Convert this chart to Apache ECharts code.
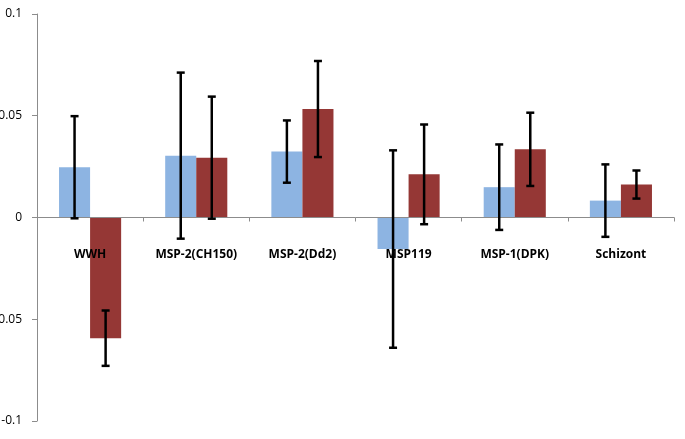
<!DOCTYPE html>
<html><head><meta charset="utf-8">
<script src="https://cdn.jsdelivr.net/npm/echarts@6/dist/echarts.min.js"></script>
<style>html,body{margin:0;padding:0;background:#fff}#c{width:685px;height:439px}</style>
</head><body><div id="c"></div>
<script>
var categories = ['WWH', 'MSP-2(CH150)', 'MSP-2(Dd2)', 'MSP119', 'MSP-1(DPK)', 'Schizont'];
var blueValues = [0.0247, 0.0304, 0.0324, -0.0155, 0.0149, 0.0083];
var blueErr = [0.0251, 0.0408, 0.0153, 0.0485, 0.0210, 0.0178];
var redValues = [-0.0593, 0.0294, 0.0533, 0.0212, 0.0335, 0.0162];
var redErr = [0.0136, 0.0300, 0.0236, 0.0245, 0.0180, 0.0069];
var yTicks = [-0.1, -0.05, 0, 0.05, 0.1];

function errData(vals, errs) {
  return vals.map(function (v, i) { return [i, v - errs[i], v + errs[i]]; });
}
function errRender(seriesIdx) {
  return function (params, api) {
    var i = api.value(0);
    var lo = api.coord([i, api.value(1)]);
    var hi = api.coord([i, api.value(2)]);
    var bw = api.size([1, 0])[0];
    var barW = bw * 0.2925;
    var x = lo[0] + (seriesIdx === 0 ? -barW / 2 : barW / 2);
    var cap = 4;
    var st = { stroke: '#000', lineWidth: 2.5 };
    return {
      type: 'group',
      children: [
        { type: 'line', shape: { x1: x, y1: lo[1], x2: x, y2: hi[1] }, style: st },
        { type: 'line', shape: { x1: x - cap, y1: lo[1], x2: x + cap, y2: lo[1] }, style: st },
        { type: 'line', shape: { x1: x - cap, y1: hi[1], x2: x + cap, y2: hi[1] }, style: st }
      ]
    };
  };
}

var gridTop = 14, gridBottom = 18, H = 439;
var zeroOffset = (H - gridTop - gridBottom) / 2;

var chart = echarts.init(document.getElementById('c'), null, { renderer: 'canvas' });
chart.setOption({
  animation: false,
  grid: { left: 37, right: 11, top: gridTop, bottom: gridBottom, containLabel: false, outerBoundsMode: 'none' },
  xAxis: {
    type: 'category',
    data: categories,
    position: 'bottom',
    offset: -zeroOffset,
    axisLine: { onZero: false, lineStyle: { color: '#8c8c8c', width: 1 } },
    axisTick: { show: true, length: 4, lineStyle: { color: '#8c8c8c' }, alignWithLabel: false },
    axisLabel: { interval: 0, margin: 31, fontFamily: 'Open Sans', fontWeight: 'bold', fontSize: 12, color: '#000', hideOverlap: false },
    z: 10
  },
  yAxis: {
    type: 'value',
    min: -0.1, max: 0.1, interval: 0.05,
    axisLine: { show: true, lineStyle: { color: '#8c8c8c', width: 1 } },
    axisTick: { show: true, length: 5, lineStyle: { color: '#8c8c8c' } },
    splitLine: { show: false },
    axisLabel: {
      margin: 15, fontFamily: 'Open Sans', fontSize: 12, color: '#000',
      formatter: function (v) { var r = Math.round(v * 100) / 100; return r === 0 ? '0' : String(r); }
    }
  },
  series: [
    { type: 'bar', data: blueValues, itemStyle: { color: '#8db4e2' }, barGap: '0%', barCategoryGap: '41.5%' },
    { type: 'bar', data: redValues, itemStyle: { color: '#953735' }, barGap: '0%', barCategoryGap: '41.5%' },
    { type: 'custom', renderItem: errRender(0), data: errData(blueValues, blueErr), encode: { x: 0, y: [1, 2] }, z: 20 },
    { type: 'custom', renderItem: errRender(1), data: errData(redValues, redErr), encode: { x: 0, y: [1, 2] }, z: 20 }
  ]
});
</script></body></html>
